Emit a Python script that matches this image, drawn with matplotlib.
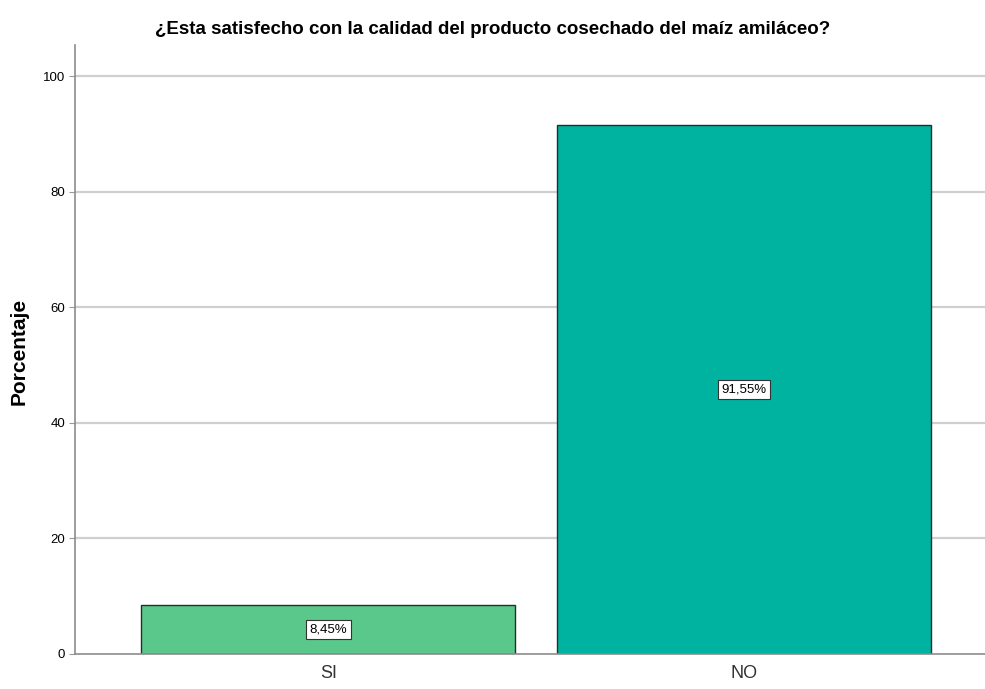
import matplotlib
matplotlib.use("Agg")
import matplotlib.pyplot as plt

categorias = ["SI", "NO"]
porcentajes = [8.45, 91.55]
etiquetas = ["8,45%", "91,55%"]
colores = ["#5ac88a", "#00b3a0"]
ticks_y = [0, 20, 40, 60, 80, 100]

fuente = "Liberation Sans"

fig = plt.figure(figsize=(9.85, 6.89), dpi=100)
ax = fig.add_axes([75 / 985, 35 / 689, 910 / 985, 609 / 689])

x = range(len(categorias))
for t in ticks_y[1:]:
    ax.axhline(t, color="#cfcfcf", lw=1.6, zorder=0)
barras = ax.bar(x, porcentajes, width=0.9, color=colores, edgecolor="#2b2b2b", lw=1.0, zorder=2)

for i, b in enumerate(barras):
    ax.text(b.get_x() + b.get_width() / 2, porcentajes[i] / 2, etiquetas[i],
            ha="center", va="center", fontsize=9.5, family=fuente, zorder=3,
            bbox=dict(boxstyle="square,pad=0.25", fc="white", ec="#333333", lw=0.8))

ax.set_xlim(-0.61, 1.58)
ax.set_ylim(0, 105.4)
ax.set_yticks(ticks_y)
ax.set_yticklabels([str(t) for t in ticks_y], family=fuente, fontsize=9.5)
ax.set_xticks(list(x))
ax.set_xticklabels(categorias, family=fuente, fontsize=13, color="#333333")
ax.tick_params(axis="x", length=0, pad=8)
ax.tick_params(axis="y", length=4, color="#999999", pad=3)

for s in ["top", "right"]:
    ax.spines[s].set_visible(False)
for s in ["left", "bottom"]:
    ax.spines[s].set_color("#8c8c8c")
    ax.spines[s].set_linewidth(1.2)

ax.set_ylabel("Porcentaje", fontsize=15, fontweight="bold", family=fuente)
ax.yaxis.set_label_coords(-46 / 910, 0.497)
fig.text(0.5, 1 - 29 / 689, "¿Esta satisfecho con la calidad del producto cosechado del maíz amiláceo?",
         ha="center", va="center", fontsize=13.5, fontweight="bold", family=fuente)

fig.savefig("out.png", dpi=100)
